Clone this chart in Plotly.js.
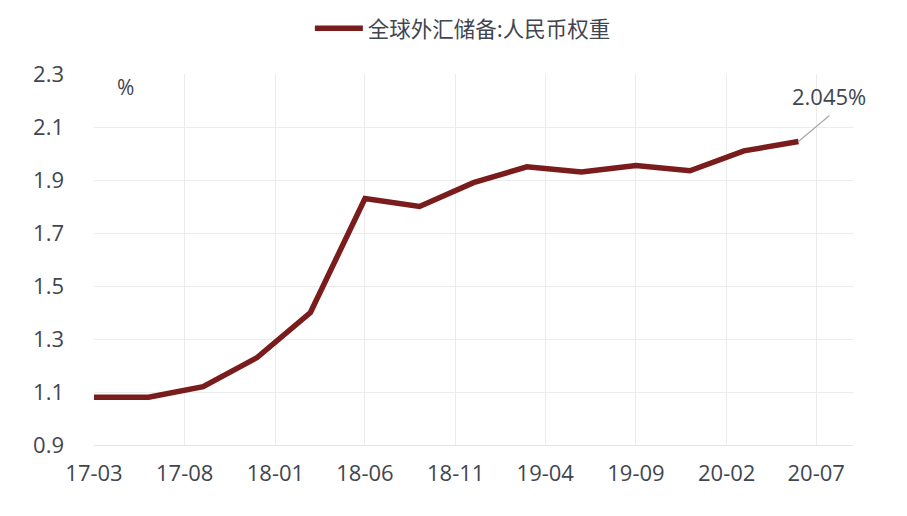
<!DOCTYPE html>
<html>
<head>
<meta charset="utf-8">
<script src="https://cdn.plot.ly/plotly-3.0.1.min.js"></script>
<style>html,body{margin:0;padding:0;background:#fff;}#chart{width:907px;height:516px;}</style>
</head>
<body>
<div id="chart"></div>
<script>
const dates = ['2017-03-01','2017-06-01','2017-09-01','2017-12-01','2018-03-01','2018-06-01','2018-09-01','2018-12-01','2019-03-01','2019-06-01','2019-09-01','2019-12-01','2020-03-01','2020-06-01'];
const rmbWeight = [1.08,1.08,1.12,1.23,1.40,1.83,1.80,1.89,1.95,1.93,1.955,1.935,2.01,2.045];
const seriesName = '全球外汇储备:人民币权重';
const yTicks = [0.9,1.1,1.3,1.5,1.7,1.9,2.1,2.3];
const lastLabel = '2.045%';

const fontFam = '"Open Sans", "Noto Sans CJK SC", sans-serif';
const txtColor = '#3f4650';

const trace = {
  x: dates, y: rmbWeight, type: 'scatter', mode: 'lines', name: seriesName,
  line: {color: '#7b1c1c', width: 5.5}, hoverinfo: 'skip'
};

const layout = {
  width: 907, height: 516,
  margin: {l: 94, r: 54, t: 74, b: 71},
  paper_bgcolor: '#fff', plot_bgcolor: '#fff',
  font: {family: fontFam, size: 22, color: txtColor},
  showlegend: true,
  legend: {orientation: 'h', x: 0.486, xanchor: 'center', y: 0.985, yref: 'container', yanchor: 'top',
           itemwidth: 48,
           font: {family: '"Noto Sans CJK SC", sans-serif', size: 21.5, color: txtColor}},
  xaxis: {
    type: 'date', range: ['2017-03-01', '2020-09-01'],
    tick0: '2017-03-01', dtick: 'M5', tickformat: '%y-%m',
    showgrid: true, gridcolor: '#ececec', gridwidth: 1,
    showline: true, linecolor: '#e6e6e6', linewidth: 1,
    ticks: '', ticklabelstandoff: 9, zeroline: false,
    tickfont: {size: 22, color: txtColor}
  },
  yaxis: {
    range: [0.9, 2.3], tickvals: yTicks, ticktext: yTicks.map(v => v.toFixed(1)),
    showgrid: true, gridcolor: '#ececec', gridwidth: 1,
    showline: false, zeroline: false, ticks: '', ticklabelstandoff: 29,
    tickfont: {size: 22, color: txtColor}
  },
  annotations: [
    {xref: 'paper', yref: 'paper', x: 0.042, y: 0.965, text: '%', showarrow: false,
     xanchor: 'center', yanchor: 'middle', font: {size: 21, color: txtColor}},
    {x: dates[dates.length - 1], y: rmbWeight[rmbWeight.length - 1], text: lastLabel,
     showarrow: true, arrowhead: 0, arrowwidth: 1.3, arrowcolor: '#aaaaaa',
     ax: 31, ay: -26, xanchor: 'center', yanchor: 'bottom', standoff: 0, borderpad: 4,
     font: {size: 22, color: txtColor}}
  ]
};

Plotly.newPlot('chart', [trace], layout, {displayModeBar: false, staticPlot: true});
</script>
</body>
</html>
